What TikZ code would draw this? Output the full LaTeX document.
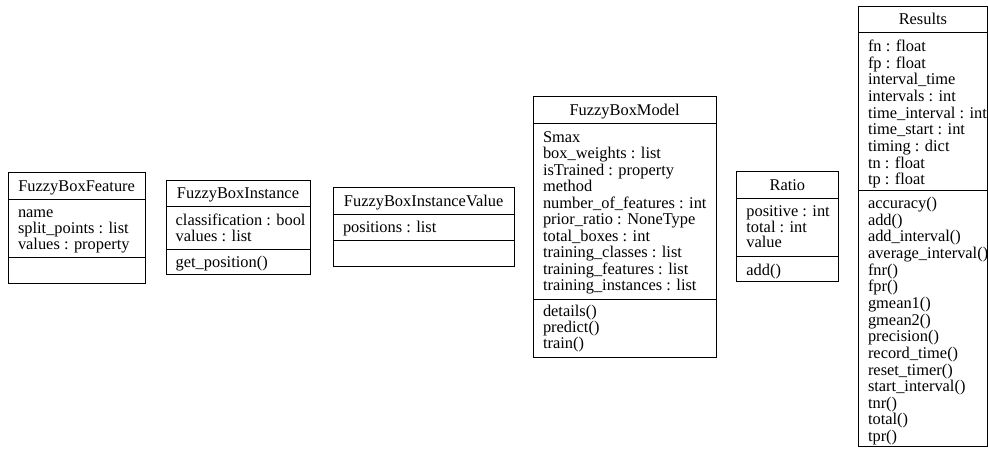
\documentclass[tikz,border=0pt]{standalone}
\usepackage{fontspec}
\setmainfont{Liberation Serif}
\tikzset{
  frame/.style={draw=black, line width=1pt, inner sep=0pt, outer sep=0pt},
  sepline/.style={draw=black, line width=1pt},
  txt/.style={anchor=base west, inner sep=0pt, font=\fontsize{16.4}{16.4}\selectfont},
  ttl/.style={anchor=base, inner sep=0pt, font=\fontsize{16.4}{16.4}\selectfont},
}
% #1 name, #2 left, #3 top, #4 right, #5 sep1, #6 sep2, #7 bottom, #8 title
\newcommand\classbox[8]{%
  \node[frame, minimum width={#4-#2}, minimum height={#7-#3}] (#1) at ({(#2+#4)/2},{(#3+#7)/2}) {};
  \draw[sepline] (#2,#5) -- (#4,#5);
  \draw[sepline] (#2,#6) -- (#4,#6);
  \node[ttl] (#1-title) at ({(#2+#4)/2},{#3+18.8}) {#8};
}
% #1 prefix, #2 left, #3 first baseline, #4 spacing, #5 list
\newcommand\classlines[5]{%
  \foreach \t [count=\i from 0] in {#5} {\node[txt] (#1\i) at ({#2+9.5},{#3+#4*\i}) {\t};}
}
\begin{document}
\begin{tikzpicture}[x=1pt,y=-1pt]
\useasboundingbox (0,0) rectangle (988,448);

% FuzzyBoxFeature
\classbox{feat}{8.3}{172.7}{145}{199.3}{257.3}{283.3}{FuzzyBoxFeature}
\classlines{feat-a}{8.3}{217.6}{16}{name, split\_points : list, values : property}

% FuzzyBoxInstance
\classbox{inst}{166}{180}{310}{206.7}{249.3}{274.5}{FuzzyBoxInstance}
\classlines{inst-a}{166}{225}{16}{classification : bool, values : list}
\classlines{inst-m}{166}{267.5}{16}{get\_position()}

% FuzzyBoxInstanceValue
\classbox{val}{333.3}{187.3}{514}{214}{240.7}{266.7}{FuzzyBoxInstanceValue}
\classlines{val-a}{333.3}{232.3}{16}{positions : list}

% FuzzyBoxModel
\classbox{model}{533.3}{96.7}{716}{123.3}{299}{357.3}{FuzzyBoxModel}
\classlines{model-a}{533.3}{142.2}{16.5}{Smax, box\_weights : list, isTrained : property, method, number\_of\_features : int, prior\_ratio : NoneType, total\_boxes : int, training\_classes : list, training\_features : list, training\_instances : list}
\classlines{model-m}{533.3}{316.5}{16.2}{details(), predict(), train()}

% Ratio
\classbox{ratio}{736.7}{171.7}{838}{198.3}{256.7}{281.7}{Ratio}
\classlines{ratio-a}{736.7}{216.7}{15.6}{positive : int, total : int, value}
\classlines{ratio-m}{736.7}{275}{16}{add()}

% Results
\classbox{res}{858.3}{6}{987.5}{32.3}{190}{446.7}{Results}
\classlines{res-a}{858.3}{51.5}{16.66}{fn : float, fp : float, interval\_time, intervals : int, time\_interval : int, time\_start : int, timing : dict, tn : float, tp : float}
\classlines{res-m}{858.3}{208.4}{16.66}{accuracy(), add(), add\_interval(), average\_interval(), fnr(), fpr(), gmean1(), gmean2(), precision(), record\_time(), reset\_timer(), start\_interval(), tnr(), total(), tpr()}
\end{tikzpicture}
\end{document}
